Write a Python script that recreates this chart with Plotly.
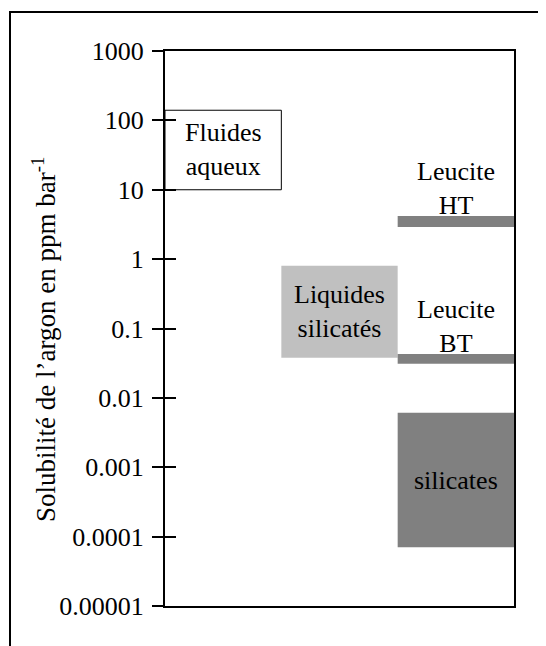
import math
import plotly.graph_objects as go

# ---- data ----
labels = ["Fluides<br>aqueux", "Liquides<br>silicatés", "Leucite<br>HT", "Leucite<br>BT", "silicates"]
columns = [0, 1, 2, 2, 2]
low_vals = [10, 0.038, 2.9, 0.031, 0.00007]
high_vals = [140, 0.8, 4.2, 0.043, 0.0061]
fill_colors = ["#FFFFFF", "#C0C0C0", "#808080", "#808080", "#808080"]
label_above = [False, False, True, True, False]

tick_vals = [1e-5, 1e-4, 1e-3, 1e-2, 1e-1, 1, 10, 100, 1000]
tick_text = ["0.00001", "0.0001", "0.001", "0.01", "0.1", "1", "10", "100", "1000"]
y_title = "Solubilité de l’argon en ppm bar<sup>-1</sup>"

FONT = "'Liberation Serif', Tinos, 'Times New Roman', 'DejaVu Serif', 'Noto Serif', serif"
FS = 26

# page is offset by the 8px body margin: figure coords = page coords - 8
W, H = 538, 638
L, T = 157, 43
PW, PH = 349, 555
R, B = W - L - PW, H - T - PH

fig = go.Figure()
for lab, c, lo, hi, col in zip(labels, columns, low_vals, high_vals, fill_colors):
    x0, x1 = c - 0.5, c + 0.5
    outlined = col == "#FFFFFF"
    fig.add_trace(go.Scatter(
        x=[x0, x1, x1, x0, x0], y=[lo, lo, hi, hi, lo],
        mode="lines", fill="toself", fillcolor=col,
        line=dict(color="black" if outlined else col, width=1 if outlined else 0),
        hoverinfo="skip", showlegend=False,
    ))

for lab, c, lo, hi, above in zip(labels, columns, low_vals, high_vals, label_above):
    if above:
        fig.add_annotation(x=c, y=math.log10(hi), text=lab, showarrow=False,
                           yanchor="bottom", xanchor="center", yshift=-6,
                           font=dict(family=FONT, size=FS, color="black"))
    else:
        fig.add_annotation(x=c, y=(math.log10(lo) + math.log10(hi)) / 2, text=lab,
                           showarrow=False, yanchor="middle", xanchor="center",
                           font=dict(family=FONT, size=FS, color="black"))

# y-axis title as rotated annotation
fig.add_annotation(xref="paper", yref="paper", x=(36 - L) / PW, y=(T + PH - 332) / PH,
                   text=y_title, textangle=-90, showarrow=False,
                   xanchor="center", yanchor="middle",
                   font=dict(family=FONT, size=27, color="black"))

# invisible trace for overlay axis (inside ticks)
fig.add_trace(go.Scatter(x=[0], y=[1], yaxis="y2", mode="markers",
                         marker=dict(opacity=0), hoverinfo="skip", showlegend=False))

fig.update_layout(
    width=W, height=H,
    margin=dict(l=L, r=R, t=T, b=B, autoexpand=False),
    paper_bgcolor="white", plot_bgcolor="white",
    font=dict(family=FONT, size=FS, color="black"),
    xaxis=dict(range=[-0.5, 2.5], showgrid=False, zeroline=False, showticklabels=False,
               ticks="", showline=True, linecolor="black", linewidth=2, mirror=True),
    yaxis=dict(type="log", range=[-5, 3], showgrid=False, zeroline=False,
               tickvals=tick_vals, ticktext=tick_text, ticks="outside", ticklen=11,
               tickwidth=2, tickcolor="black", showline=True, linecolor="black",
               linewidth=2, mirror=True, ticklabelstandoff=3,
               tickfont=dict(family=FONT, size=FS, color="black")),
    yaxis2=dict(type="log", range=[-5, 3], overlaying="y", side="left", showgrid=False,
                zeroline=False, tickvals=tick_vals, showticklabels=False, ticks="inside",
                ticklen=11, tickwidth=2, tickcolor="black", showline=False),
    shapes=[dict(type="rect", xref="paper", yref="paper",
                 x0=(2 - L) / PW, x1=(580 - L) / PW,
                 y0=(T + PH - 700) / PH, y1=(T + PH - 4) / PH,
                 line=dict(color="black", width=2), fillcolor="rgba(0,0,0,0)", layer="below")],
)

fig.write_html("out.html")
